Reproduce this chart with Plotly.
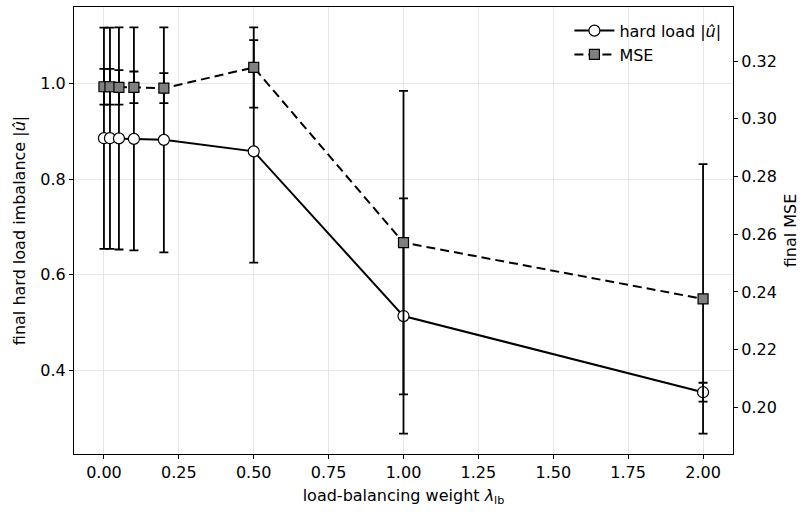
import plotly.graph_objects as go
from plotly.subplots import make_subplots

# data
lam = [0.0, 0.02, 0.05, 0.1, 0.2, 0.5, 1.0, 2.0]
hard_load = [0.8855, 0.8855, 0.885, 0.884, 0.882, 0.858, 0.514, 0.355]
hard_load_err = [0.231, 0.231, 0.232, 0.233, 0.235, 0.2324, 0.2456, 0.0198]
mse = [0.3111, 0.3111, 0.3109, 0.3109, 0.3106, 0.3178, 0.2571, 0.2376]
mse_err = [0.0062, 0.0062, 0.0060, 0.0055, 0.0052, 0.0139, 0.0526, 0.0467]

x_ticks = [0.0, 0.25, 0.5, 0.75, 1.0, 1.25, 1.5, 1.75, 2.0]
y1_ticks = [0.4, 0.6, 0.8, 1.0]
y2_ticks = [0.20, 0.22, 0.24, 0.26, 0.28, 0.30, 0.32]


def padded(lo, hi, frac=0.05):
    d = hi - lo
    return [lo - frac * d, hi + frac * d]


y1_range = padded(min(v - e for v, e in zip(hard_load, hard_load_err)),
                  max(v + e for v, e in zip(hard_load, hard_load_err)))
y2_range = padded(min(v - e for v, e in zip(mse, mse_err)),
                  max(v + e for v, e in zip(mse, mse_err)))
x_range = padded(min(lam), max(lam))

FONT = "DejaVu Sans"
FS = 16
fig = make_subplots(specs=[[{"secondary_y": True}]])

fig.add_trace(go.Scatter(
    x=lam, y=hard_load, name="hard load |<i>û</i>|", mode="lines+markers",
    line=dict(color="black", width=2),
    marker=dict(symbol="circle", size=11, color="white", line=dict(color="black", width=1.2)),
    error_y=dict(type="data", array=hard_load_err, visible=True, color="black", thickness=1.8, width=4.5),
), secondary_y=False)

fig.add_trace(go.Scatter(
    x=lam, y=mse, name="MSE", mode="lines+markers",
    line=dict(color="black", width=2, dash="9px,5px"),
    marker=dict(symbol="square", size=10, color="#7f7f7f", line=dict(color="black", width=1.2)),
    error_y=dict(type="data", array=mse_err, visible=True, color="black", thickness=1.8, width=4.5),
), secondary_y=True)

axis_common = dict(
    showline=True, linecolor="black", linewidth=1.1,
    ticks="outside", ticklen=4, tickwidth=1, tickcolor="black",
    tickfont=dict(family=FONT, size=FS, color="black"),
    zeroline=False, automargin=False,
)

fig.update_xaxes(
    domain=[0, 1],
    range=x_range, tickvals=x_ticks, ticktext=[f"{v:.2f}" for v in x_ticks],
    showgrid=True, gridcolor="#e6e6e6", gridwidth=1, mirror=True,
    title=dict(text="load-balancing weight <i>λ</i><sub>lb</sub>",
               font=dict(family=FONT, size=FS, color="black"), standoff=8),
    **axis_common,
)
fig.update_yaxes(
    range=y1_range, tickvals=y1_ticks, ticktext=[f"{v:.1f}" for v in y1_ticks],
    showgrid=True, gridcolor="#e6e6e6", gridwidth=1,
    title=dict(text="final hard load imbalance |<i>û</i>|",
               font=dict(family=FONT, size=FS, color="black"), standoff=10),
    secondary_y=False, **axis_common,
)
fig.update_yaxes(
    range=y2_range, tickvals=y2_ticks, ticktext=[f"{v:.2f}" for v in y2_ticks],
    showgrid=False,
    title=dict(text="final MSE", font=dict(family=FONT, size=FS, color="black"), standoff=8),
    secondary_y=True, **axis_common,
)

fig.update_layout(
    width=810, height=514,
    margin=dict(l=74, r=77, t=7, b=60),
    plot_bgcolor="white", paper_bgcolor="white",
    font=dict(family=FONT, size=FS, color="black"),
    showlegend=True,
    legend=dict(x=0.99, y=0.985, xanchor="right", yanchor="top",
                bgcolor="rgba(255,255,255,0)", borderwidth=0,
                font=dict(family=FONT, size=FS, color="black"),
                itemwidth=40, tracegroupgap=2),
)

fig.write_html("out.html")
